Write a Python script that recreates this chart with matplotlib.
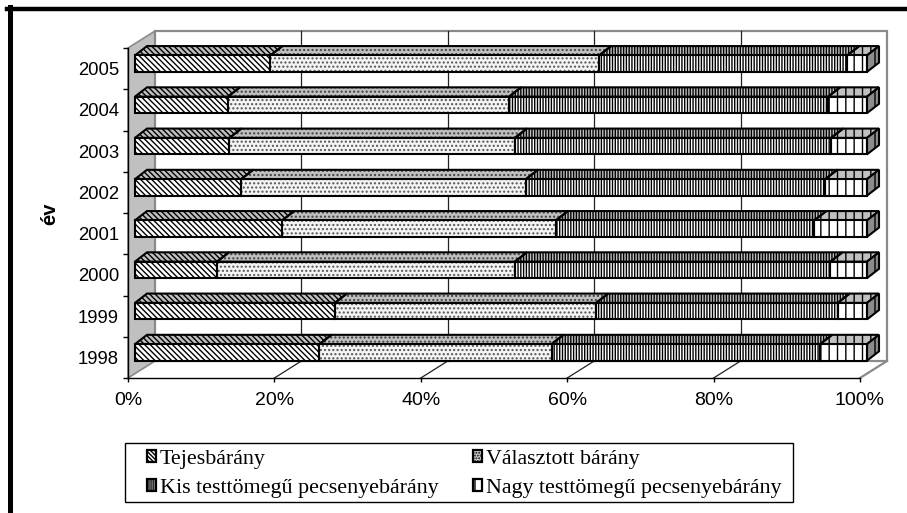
import matplotlib
matplotlib.use("Agg")
import matplotlib.pyplot as plt
from matplotlib.patches import Polygon, Patch, Rectangle
from matplotlib.lines import Line2D
import numpy as np

# ---- data -------------------------------------------------------------
years = ["1998", "1999", "2000", "2001", "2002", "2003", "2004", "2005"]
tejes = [25.2, 27.3, 11.2, 20.1, 14.5, 12.9, 12.7, 18.5]
valasztott = [31.7, 35.7, 40.7, 37.4, 38.9, 39.0, 38.4, 44.9]
kis = [36.7, 33.0, 43.1, 35.3, 40.9, 43.2, 43.6, 33.9]
nagy = [6.4, 4.0, 5.0, 7.2, 5.7, 4.9, 5.3, 2.7]
series_names = ["Tejesbárány", "Választott bárány",
                "Kis testtömegű pecsenyebárány", "Nagy testtömegű pecsenyebárány"]
pct_ticks = [0, 20, 40, 60, 80, 100]
pct_labels = ["0%", "20%", "40%", "60%", "80%", "100%"]
axis_title = "év"

# ---- styles -----------------------------------------------------------
plt.rcParams["hatch.linewidth"] = 1.0
SANS = ["Liberation Sans", "DejaVu Sans"]
SERIF = ["Liberation Serif", "DejaVu Serif"]

front_style = [
    dict(fc="white", hatch="\\" * 6, hc="black"),
    dict(fc="#f4f4f4", hatch="....", hc="#555555"),
    dict(fc="white", hatch="|" * 6, hc="black"),
    dict(fc="white", hatch="||", hc="black"),
]
top_style = [
    dict(fc="#c0c0c0", hatch="\\" * 6, hc="black"),
    dict(fc="#c0c0c0", hatch="....", hc="#404040"),
    dict(fc="#c0c0c0", hatch="|" * 6, hc="black"),
    dict(fc="#c0c0c0", hatch="||", hc="black"),
]
end_style = dict(fc="#8c8c8c", hatch="|", hc="black")

W, H, DPI = 907, 513, 100
fig = plt.figure(figsize=(W / DPI, H / DPI), dpi=DPI)
fig.patch.set_facecolor("white")

# axes = front edge of the floor / left wall
ax_l, ax_r, ax_t, ax_b = 128, 860, 48, 378
ax = fig.add_axes([ax_l / W, 1 - ax_b / H, (ax_r - ax_l) / W, (ax_b - ax_t) / H])
ax.set_xlim(0, 100)
ax.set_ylim(-0.5, len(years) - 0.5)
ax.patch.set_visible(False)

# pixel -> data conversion for the oblique depth offsets
XPP = 100 / (ax_r - ax_l)
YPP = len(years) / (ax_b - ax_t)
WDX, WDY = 27 * XPP, 17 * YPP          # wall depth
FX, FY = 7 * XPP, 5 * YPP              # bar front-face offset
BX, BY = 12 * XPP, 9.3 * YPP           # bar depth
HH = 8.25 * YPP                        # bar half height

y0, y1 = -0.5, len(years) - 0.5
wall_gray = "#8a8a8a"

# left wall
ax.add_patch(Polygon([(0, y0), (0, y1), (WDX, y1 + WDY), (WDX, y0 + WDY)],
                     closed=True, fc="#c0c0c0", ec=wall_gray, lw=1.2,
                     clip_on=False, zorder=1))
# back wall
ax.add_patch(Polygon([(WDX, y0 + WDY), (WDX, y1 + WDY), (100 + WDX, y1 + WDY),
                      (100 + WDX, y0 + WDY)],
                     closed=True, fc="white", ec=wall_gray, lw=1.6,
                     clip_on=False, zorder=1))
# floor right edge
ax.plot([100, 100 + WDX], [y0, y0 + WDY], color=wall_gray, lw=1.6,
        clip_on=False, zorder=1)
# grid on back wall + floor
for p in pct_ticks[1:-1]:
    ax.plot([p + WDX, p + WDX], [y0 + WDY, y1 + WDY], color="#222222",
            lw=0.9, clip_on=False, zorder=2)
    ax.plot([p, p + WDX], [y0, y0 + WDY], color="#222222", lw=0.9,
            clip_on=False, zorder=2)


def face(pts, style, z):
    ax.add_patch(Polygon(pts, closed=True, fc=style["fc"], ec=style["hc"],
                         hatch=style["hatch"], lw=0, clip_on=False, zorder=z))
    ax.add_patch(Polygon(pts, closed=True, fill=False, ec="black", lw=1.5,
                         joinstyle="miter", clip_on=False, zorder=z + 0.5))


# ---- bars -------------------------------------------------------------
data = np.array([tejes, valasztott, kis, nagy], dtype=float)
shares = data / data.sum(axis=0) * 100
for i in range(len(years)):
    cy = i + FY
    lo, hi = cy - HH, cy + HH
    left = 0.0
    for s in range(4):
        right = left + shares[s, i]
        a, b = left + FX, right + FX
        # top face
        face([(a, hi), (b, hi), (b + BX, hi + BY), (a + BX, hi + BY)],
             top_style[s], 3)
        # front face
        face([(a, lo), (b, lo), (b, hi), (a, hi)], front_style[s], 4)
        left = right
    # right end face
    e = left + FX
    face([(e, lo), (e, hi), (e + BX, hi + BY), (e + BX, lo + BY)], end_style, 4)

# ---- axes, ticks, labels ---------------------------------------------
for side in ("top", "right"):
    ax.spines[side].set_visible(False)
for side in ("left", "bottom"):
    ax.spines[side].set_color("black")
    ax.spines[side].set_linewidth(1.0)
    ax.spines[side].set_zorder(5)

ax.set_yticks(np.arange(-0.5, len(years), 1.0))
ax.set_yticklabels([])
ax.set_yticks(np.arange(len(years)), minor=True)
ax.set_yticklabels(years, minor=True, fontsize=13.3, family=SANS)
ax.tick_params(axis="y", which="major", length=3.6, width=1.0, direction="out")
ax.tick_params(axis="y", which="minor", length=0, pad=6.5)

ax.set_xticks(pct_ticks)
ax.set_xticklabels(pct_labels, fontsize=14, family=SANS)
ax.tick_params(axis="x", length=3.0, width=1.0, pad=7)

fig.text(50 / W, 1 - 214 / H, axis_title, rotation=90, ha="center",
         va="center", fontsize=14.5, fontweight="bold", family=SANS)

# ---- legend -----------------------------------------------------------
order = [0, 2, 1, 3]
leg_hatch = ["\\" * 8, "......", "|" * 8, "|"]
leg_fc = ["white", "#d8d8d8", "white", "white"]
handles = [Patch(facecolor=leg_fc[k], hatch=leg_hatch[k],
                 edgecolor="black", lw=1.6) for k in order]
labels = [series_names[k] for k in order]
leg = fig.legend(handles, labels, ncol=2, loc="upper left",
                 bbox_to_anchor=(147 / W, 1 - 450 / H), frameon=False,
                 prop=dict(family=SERIF, size=15.8), handlelength=0.42,
                 handleheight=0.42, handletextpad=0.15, columnspacing=1.6,
                 labelspacing=0.45, borderpad=0, borderaxespad=0)
fig.add_artist(Rectangle((125 / W, 1 - 502 / H), (793 - 125) / W, 59 / H,
                         transform=fig.transFigure, fill=False, ec="black",
                         lw=1.0))

# ---- outer frame ------------------------------------------------------
fig.add_artist(Line2D([7 / W, 1.0], [1 - 9 / H, 1 - 9 / H],
                      transform=fig.transFigure, color="black", lw=3.2))
fig.add_artist(Line2D([9.5 / W, 9.5 / W], [0, 1 - 7 / H],
                      transform=fig.transFigure, color="black", lw=3.6))

fig.savefig("out.png", dpi=DPI)
